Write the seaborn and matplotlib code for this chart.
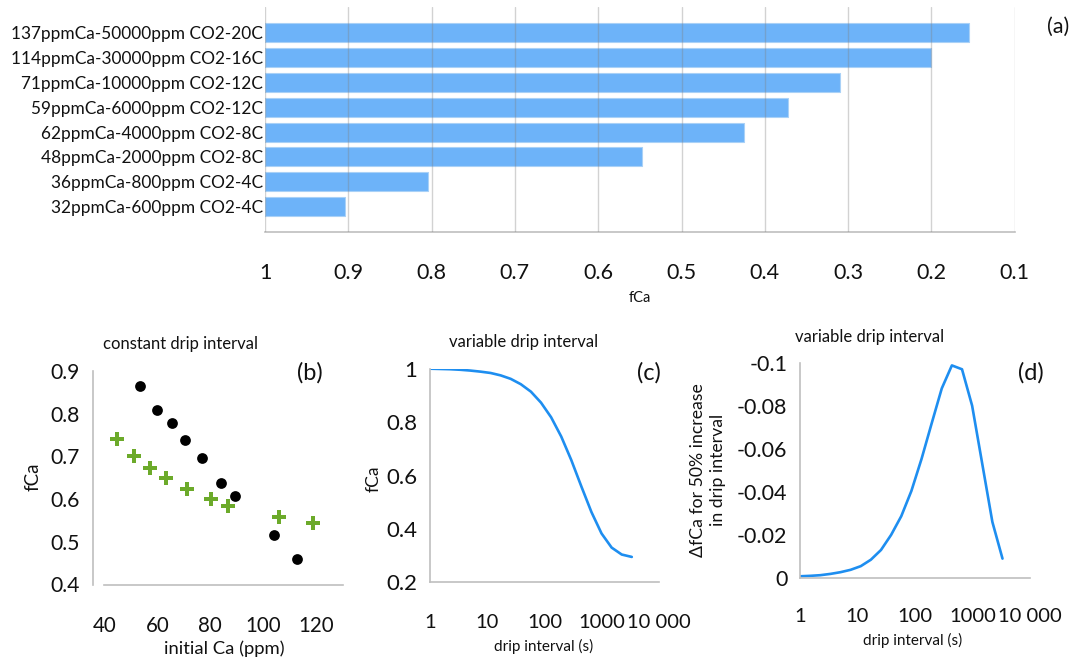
import numpy as np
import pandas as pd
import matplotlib
matplotlib.use("Agg")
import matplotlib.pyplot as plt
from matplotlib.ticker import NullLocator
import seaborn as sns

# ---------------- data ----------------
categories = ["137ppmCa-50000ppm CO2-20C", "114ppmCa-30000ppm CO2-16C",
              "71ppmCa-10000ppm CO2-12C", "59ppmCa-6000ppm CO2-12C",
              "62ppmCa-4000ppm CO2-8C", "48ppmCa-2000ppm CO2-8C",
              "36ppmCa-800ppm CO2-4C", "32ppmCa-600ppm CO2-4C"]
fca_a = [0.155, 0.200, 0.310, 0.372, 0.425, 0.548, 0.804, 0.904]
a_ticks = [1, 0.9, 0.8, 0.7, 0.6, 0.5, 0.4, 0.3, 0.2, 0.1]
a_ticklabels = ["1", "0.9", "0.8", "0.7", "0.6", "0.5", "0.4", "0.3", "0.2", "0.1"]

ca_black = [53.3, 59.9, 65.5, 70.4, 77.0, 84.2, 89.5, 104.1, 112.6]
fca_black = [0.866, 0.809, 0.779, 0.738, 0.696, 0.638, 0.607, 0.515, 0.460]
ca_green = [44.7, 51.1, 57.1, 63.1, 71.1, 80.2, 86.7, 106.0, 118.6]
fca_green = [0.741, 0.702, 0.673, 0.649, 0.624, 0.600, 0.585, 0.558, 0.543]
b_xticks = [40, 60, 80, 100, 120]
b_xticklabels = ["40", "60", "80", "100", "120"]
b_yticks = [0.4, 0.5, 0.6, 0.7, 0.8, 0.9]
b_yticklabels = ["0.4", "0.5", "0.6", "0.7", "0.8", "0.9"]
b_yminor = [0.45, 0.55, 0.65, 0.75, 0.85]

drip_interval = [1, 1.5, 2.25, 3.375, 5.06, 7.59, 11.4, 17.1, 25.6, 38.4, 57.7,
                 86.5, 130, 195, 292, 438, 657, 985, 1478, 2217, 3325]
fca_c = [1.000, 0.999, 0.998, 0.996, 0.993, 0.989, 0.984, 0.975, 0.962, 0.942,
         0.914, 0.873, 0.818, 0.746, 0.658, 0.559, 0.463, 0.383, 0.330, 0.304, 0.295]
dfca_d = [-0.0008, -0.0010, -0.0013, -0.0019, -0.0027, -0.0038, -0.0055, -0.0085,
          -0.0130, -0.0200, -0.0287, -0.0404, -0.0553, -0.0718, -0.0880, -0.0987,
          -0.0969, -0.0800, -0.0530, -0.0260, -0.0090]
log_ticks = [1, 10, 100, 1000, 10000]
log_ticklabels = ["1", "10", "100", "1000", "10 000"]
c_yticks = [0.2, 0.4, 0.6, 0.8, 1.0]
c_yticklabels = ["0.2", "0.4", "0.6", "0.8", "1"]
c_yminor = [0.3, 0.5, 0.7, 0.9]
d_yticks = [0, -0.02, -0.04, -0.06, -0.08, -0.1]
d_yticklabels = ["0", "-0.02", "-0.04", "-0.06", "-0.08", "-0.1"]
d_yminor = [-0.01, -0.03, -0.05, -0.07, -0.09]

# ---------------- style ----------------
sns.set_style("white")
plt.rcParams['font.family'] = ['Lato', 'DejaVu Sans']
plt.rcParams['axes.unicode_minus'] = False

W, H = 1075, 660
fig = plt.figure(figsize=(W / 100, H / 100), dpi=100)

def rect(x0, y0, x1, y1):
    return [x0 / W, 1 - y1 / H, (x1 - x0) / W, (y1 - y0) / H]

def fpos(x, y):
    return (x / W, 1 - y / H)

GRAY = "#BFBFBF"
BAR = "#6DB3F9"
LINE = "#1E8EF0"
GREEN = "#6CAA2A"
TXT = "#111111"

# ---------------- panel (a) ----------------
axa = fig.add_axes(rect(265, 7.3, 1014.7, 232.3))
df_a = pd.DataFrame({"cat": categories, "fCa": fca_a})
sns.barplot(data=df_a, x="fCa", y="cat", orient="h", color=BAR, width=0.766,
            saturation=1, edgecolor="#A9D1F7", linewidth=0.8, ax=axa)
for p, v in zip(axa.patches, fca_a):
    p.set_x(1)
    p.set_width(v - 1)
axa.set_xlim(1, 0.1)
axa.set_ylim(8.04, -1.03)
axa.set_xticks(a_ticks, labels=a_ticklabels)
axa.grid(axis="x", color="#808080", alpha=0.35, lw=1)
axa.set_axisbelow(False)
for s in ["top", "right", "left"]:
    axa.spines[s].set_visible(False)
axa.spines["bottom"].set_color(GRAY)
axa.spines["bottom"].set_linewidth(1.2)
axa.tick_params(axis="x", direction="out", length=8.6, width=1, color=GRAY,
                labelsize=15.5, pad=13.5, labelcolor=TXT)
axa.tick_params(axis="y", length=0, pad=1.5, labelsize=12.4, labelcolor=TXT)
axa.set_ylabel("")
axa.set_xlabel("fCa", fontsize=10.5, color=TXT, va="center")
axa.xaxis.set_label_coords(*fpos(640, 298), transform=fig.transFigure)
fig.text(*fpos(1058, 27), "(a)", fontsize=15.5, ha="center", va="center", color=TXT)

def style_small(ax, yticks, ylabels, yminor, xlabelsize=15.5, ylabelsize=15.5, xpad=13):
    for s in ["top", "right"]:
        ax.spines[s].set_visible(False)
    for s in ["left", "bottom"]:
        ax.spines[s].set_color(GRAY)
        ax.spines[s].set_linewidth(1.2)
    ax.set_yticks(yticks, labels=ylabels)
    ax.set_yticks(yminor, minor=True)
    ax.tick_params(axis="y", which="major", length=0, pad=9.0,
                   labelsize=ylabelsize, labelcolor=TXT)
    ax.tick_params(axis="y", which="minor", direction="in", length=4.5,
                   width=1, color=GRAY)
    ax.tick_params(axis="x", which="major", direction="out", length=8.6,
                   width=1, color=GRAY, pad=xpad, labelsize=xlabelsize, labelcolor=TXT)
    ax.tick_params(axis="x", which="minor", length=0)
    ax.grid(False)

# ---------------- panel (b) ----------------
axb = fig.add_axes(rect(104.3, 371, 342.8, 584.5))
sns.scatterplot(x=ca_black, y=fca_black, ax=axb, color="black", s=60,
                marker="o", edgecolor="black", linewidth=0, zorder=3)
sns.scatterplot(x=ca_green, y=fca_green, ax=axb, color=GREEN, s=95,
                marker="P", edgecolor=GREEN, linewidth=0, zorder=3)
axb.set_xlim(40, 130)
axb.set_ylim(0.4, 0.9)
axb.set_xticks(b_xticks, labels=b_xticklabels)
style_small(axb, b_yticks, b_yticklabels, b_yminor, xlabelsize=14.8, ylabelsize=15.2, xpad=14)
axb.spines["left"].set_position(("outward", 8.4))
axb.set_xlabel("initial Ca (ppm)", fontsize=13.3, color=TXT, va="center")
axb.xaxis.set_label_coords(*fpos(224, 649), transform=fig.transFigure)
axb.set_ylabel("fCa", fontsize=13.5, color=TXT, va="center")
axb.yaxis.set_label_coords(*fpos(33.3, 477), transform=fig.transFigure)
fig.text(*fpos(180.8, 344.5), "constant drip interval", fontsize=12,
         ha="center", va="center", color=TXT)
fig.text(*fpos(310, 373.3), "(b)", fontsize=17, ha="center", va="center", color=TXT)

# ---------------- panel (c) ----------------
axc = fig.add_axes(rect(430, 368.7, 659.2, 582.3))
axc.set_xscale("log")
sns.lineplot(x=drip_interval, y=fca_c, ax=axc, color=LINE, lw=1.9)
axc.set_xlim(1, 10000)
axc.set_ylim(0.2, 1.0)
axc.set_xticks(log_ticks, labels=log_ticklabels)
axc.xaxis.set_minor_locator(NullLocator())
style_small(axc, c_yticks, c_yticklabels, c_yminor, xlabelsize=14.5, ylabelsize=16, xpad=14)
axc.set_xlabel("drip interval (s)", fontsize=11, color=TXT, va="center")
axc.xaxis.set_label_coords(*fpos(544, 646), transform=fig.transFigure)
axc.set_ylabel("fCa", fontsize=12.5, color=TXT, va="center")
axc.yaxis.set_label_coords(*fpos(373.3, 479), transform=fig.transFigure)
fig.text(*fpos(523.3, 342), "variable drip interval", fontsize=12,
         ha="center", va="center", color=TXT)
fig.text(*fpos(649.3, 373.3), "(c)", fontsize=17, ha="center", va="center", color=TXT)

# ---------------- panel (d) ----------------
axd = fig.add_axes(rect(800, 362.6, 1030, 578))
axd.set_xscale("log")
sns.lineplot(x=drip_interval, y=dfca_d, ax=axd, color=LINE, lw=1.9)
axd.set_xlim(1, 10000)
axd.set_ylim(0, -0.1)
axd.set_xticks(log_ticks, labels=log_ticklabels)
axd.xaxis.set_minor_locator(NullLocator())
style_small(axd, d_yticks, d_yticklabels, d_yminor, xlabelsize=14.5, ylabelsize=15.5, xpad=13)
axd.set_xlabel("drip interval (s)", fontsize=11, color=TXT, va="center")
axd.xaxis.set_label_coords(*fpos(912.7, 640), transform=fig.transFigure)
axd.set_ylabel("\u0394fCa for 50% increase\nin drip interval", fontsize=12.7,
               color=TXT, va="center", linespacing=1.25)
axd.yaxis.set_label_coords(*fpos(708, 470), transform=fig.transFigure)
fig.text(*fpos(870, 337), "variable drip interval", fontsize=12,
         ha="center", va="center", color=TXT)
fig.text(*fpos(1030.7, 373.3), "(d)", fontsize=17, ha="center", va="center", color=TXT)

fig.savefig("out.png", dpi=100, facecolor="white")
